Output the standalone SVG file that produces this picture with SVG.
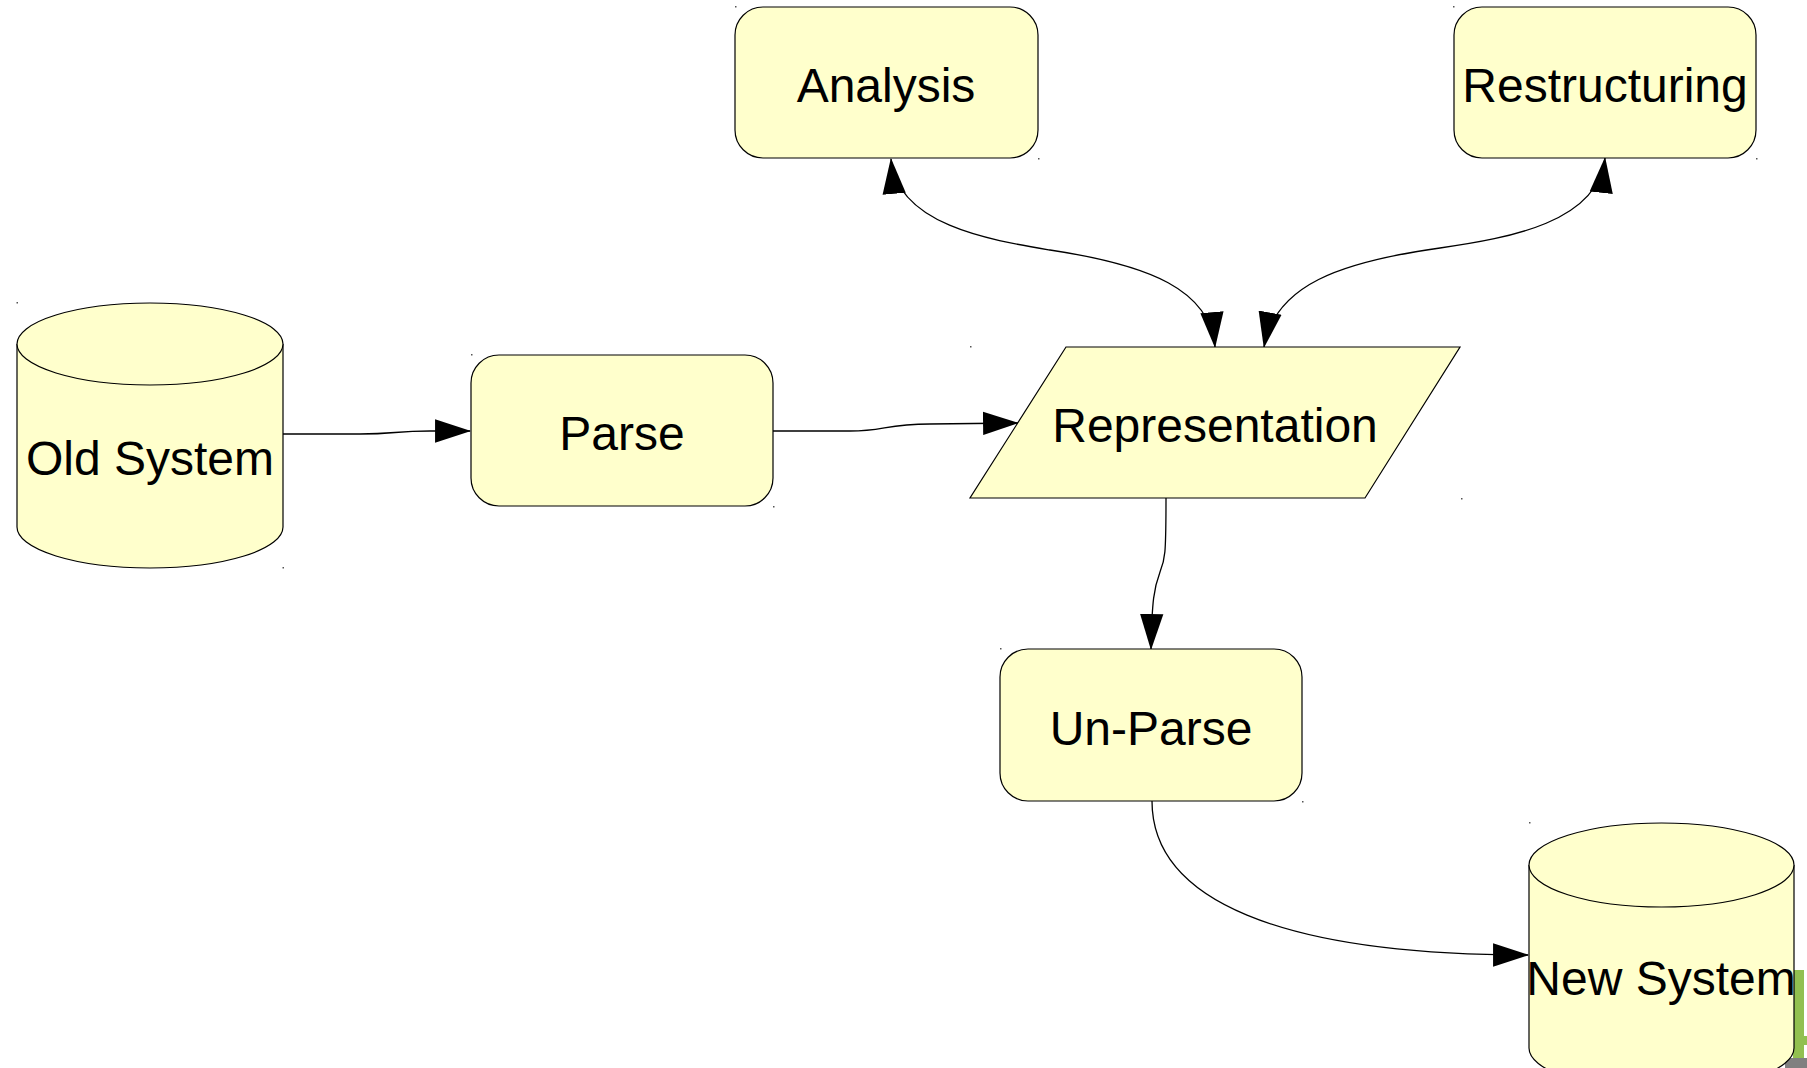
<svg xmlns="http://www.w3.org/2000/svg" width="1807" height="1068" viewBox="0 0 1807 1068">
  <style>
    .shape { fill: #ffffcc; stroke: #000; stroke-width: 1.2; }
    .label { font-family: "Liberation Sans", Arial, sans-serif; font-size: 48px; fill: #000; text-anchor: middle; }
    .edge { fill: none; stroke: #000; stroke-width: 1.3; }
    .dot { fill: #555; }
  </style>
  <defs>
    <marker id="arrow" markerUnits="userSpaceOnUse" markerWidth="36" markerHeight="24" viewBox="0 0 34 22" refX="33" refY="11" orient="auto-start-reverse">
      <path d="M0,0 L34,11 L0,22 Z" fill="#000"/>
    </marker>
  </defs>

  <rect width="1807" height="1068" fill="#fff"/>

  <!-- corner decoration (bottom right) -->
  <g id="corner-decoration">
    <rect x="1793" y="970" width="11" height="98" fill="#92c050"/>
    <rect x="1793" y="1036" width="14" height="9" fill="#92c050"/>
    <rect x="1785" y="1058" width="22" height="10" fill="#808080"/>
  </g>

  <!-- connectors -->
  <g id="connectors">
    <path class="edge" d="M283,434 L360,434 C395,434 395,431 430,431 L470,431" marker-end="url(#arrow)"/>
    <path class="edge" d="M773,431 L850,431 C885,431 885,424 930,424 L1018,423" marker-end="url(#arrow)"/>
    <path class="edge" d="M891,159 C897,225 990,240 1050,250 C1150,265 1210,290 1215,347" marker-start="url(#arrow)" marker-end="url(#arrow)"/>
    <path class="edge" d="M1605,158 C1598,222 1510,238 1440,248 C1340,262 1275,285 1264,347" marker-start="url(#arrow)" marker-end="url(#arrow)"/>
    <path class="edge" d="M1166,498 C1166,555 1165,560 1160,572 C1154,588 1152,600 1151,649" marker-end="url(#arrow)"/>
    <path class="edge" d="M1152,801 C1152,900 1280,955 1528,955" marker-end="url(#arrow)"/>
  </g>

  <!-- Old System (database) -->
  <g id="old-system">
    <path class="shape" d="M17,344 L17,527 A133,41 0 0 0 283,527 L283,344 A133,41 0 0 0 17,344 Z"/>
    <path class="shape" d="M17,344 A133,41 0 0 0 283,344"/>
    <text class="label" x="150" y="475">Old System</text>
    <rect class="dot" x="16.5" y="302" width="1.5" height="1.5"/>
    <rect class="dot" x="282.5" y="567" width="1.5" height="1.5"/>
  </g>

  <!-- Parse -->
  <g id="parse">
    <rect class="shape" x="471" y="355" width="302" height="151" rx="28" ry="28"/>
    <text class="label" x="622" y="450">Parse</text>
    <rect class="dot" x="471" y="354" width="1.5" height="1.5"/>
    <rect class="dot" x="773" y="506" width="1.5" height="1.5"/>
  </g>

  <!-- Analysis -->
  <g id="analysis">
    <rect class="shape" x="735" y="7" width="303" height="151" rx="28" ry="28"/>
    <text class="label" x="886" y="102">Analysis</text>
    <rect class="dot" x="735" y="6" width="1.5" height="1.5"/>
    <rect class="dot" x="1038" y="158" width="1.5" height="1.5"/>
  </g>

  <!-- Restructuring -->
  <g id="restructuring">
    <rect class="shape" x="1454" y="7" width="302" height="151" rx="28" ry="28"/>
    <text class="label" x="1605" y="102">Restructuring</text>
    <rect class="dot" x="1453" y="6" width="1.5" height="1.5"/>
    <rect class="dot" x="1756" y="158" width="1.5" height="1.5"/>
  </g>

  <!-- Representation (data) -->
  <g id="representation">
    <path class="shape" d="M1066,347 L1460,347 L1365,498 L970,498 Z"/>
    <text class="label" x="1215" y="442">Representation</text>
    <rect class="dot" x="970" y="346" width="1.5" height="1.5"/>
    <rect class="dot" x="1461" y="498" width="1.5" height="1.5"/>
  </g>

  <!-- Un-Parse -->
  <g id="un-parse">
    <rect class="shape" x="1000" y="649" width="302" height="152" rx="28" ry="28"/>
    <text class="label" x="1151" y="745">Un-Parse</text>
    <rect class="dot" x="1000" y="648" width="1.5" height="1.5"/>
    <rect class="dot" x="1302" y="801" width="1.5" height="1.5"/>
  </g>

  <!-- New System (database) -->
  <g id="new-system">
    <path class="shape" d="M1529,865 L1529,1048 A132.5,42 0 0 0 1794,1048 L1794,865 A132.5,42 0 0 0 1529,865 Z"/>
    <path class="shape" d="M1529,865 A132.5,42 0 0 0 1794,865"/>
    <text class="label" x="1661" y="995">New System</text>
    <rect class="dot" x="1529" y="822" width="1.5" height="1.5"/>
  </g>
</svg>
